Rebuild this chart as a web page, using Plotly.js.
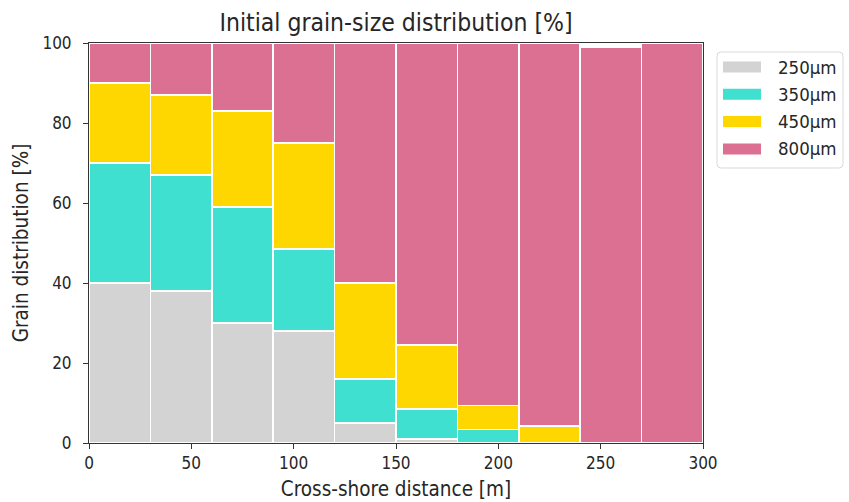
<!DOCTYPE html>
<html><head><meta charset="utf-8">
<script src="https://cdn.plot.ly/plotly-3.0.1.min.js"></script>
<style>body{margin:0;background:#fff}#c{width:849px;height:502px}</style>
</head><body><div id="c"></div>
<script>
const xPos = [0, 30, 60, 90, 120, 150, 180, 210, 240, 270];
const s250 = [40, 38, 30, 28, 5, 1, 0, 0, 0, 0];
const s350 = [30, 29, 29, 20.5, 11, 7.5, 3.4, 0, 0, 0];
const s450 = [20, 20, 24, 26.5, 24, 16, 6, 4.3, 0, 0];
const s800 = [10, 13, 17, 25, 60, 75.5, 90.6, 95.7, 99, 100];
const names = ['250µm', '350µm', '450µm', '800µm'];
const colors = ['#d3d3d3', '#40e0d0', '#ffd700', '#db7093'];
const series = [s250, s350, s450, s800];

const W = 849, H = 502, ML = 89, MR = 146, MT = 43, MB = 59;
const PW = W - ML - MR, PH = H - MT - MB;
const px = v => (v - ML) / PW;
const py = v => (H - MB - v) / PH;

const traces = series.map((s, i) => ({
  type: 'bar', x: xPos, y: s, name: names[i], width: 30, offset: 0, showlegend: false,
  marker: {color: colors[i], line: {color: '#ffffff', width: 1.5}}
}));
const FAM = 'DejaVu Sans Condensed, DejaVu Sans';
const tickFont = {family: FAM, size: 17, color: '#262626'};
const labFont = {family: FAM, size: 20.5, color: '#262626'};

// custom legend (matplotlib-style wide patches)
const shapes = [];
const annotations = [];
const bx0 = 717, bx1 = 843, by0 = 52, by1 = 168, r = 4;
const rx = r / PW, ry = r / PH;
const X0 = px(bx0), X1 = px(bx1), Y0 = py(by0), Y1 = py(by1);
shapes.push({type: 'path', xref: 'paper', yref: 'paper',
  path: `M ${X0 + rx} ${Y0} L ${X1 - rx} ${Y0} Q ${X1} ${Y0} ${X1} ${Y0 - ry} L ${X1} ${Y1 + ry} Q ${X1} ${Y1} ${X1 - rx} ${Y1} L ${X0 + rx} ${Y1} Q ${X0} ${Y1} ${X0} ${Y1 + ry} L ${X0} ${Y0 - ry} Q ${X0} ${Y0} ${X0 + rx} ${Y0} Z`,
  line: {color: '#d9d9d9', width: 1}, fillcolor: '#ffffff'});
names.forEach((n, i) => {
  const cy = 67 + i * 27.3;
  shapes.push({type: 'rect', xref: 'paper', yref: 'paper', x0: px(723), x1: px(761), y0: py(cy - 5.5), y1: py(cy + 5.5),
    fillcolor: colors[i], line: {width: 0}});
  annotations.push({xref: 'paper', yref: 'paper', x: px(776), y: py(cy), xanchor: 'left', yanchor: 'middle',
    text: n, showarrow: false, font: {family: FAM, size: 18.5, color: '#262626'}});
});

Plotly.newPlot('c', traces, {
  width: W, height: H, barmode: 'stack', bargap: 0,
  margin: {l: ML, r: MR, t: MT, b: MB},
  paper_bgcolor: '#fff', plot_bgcolor: '#fff', font: tickFont,
  title: {text: 'Initial grain-size distribution [%]', font: {family: FAM, size: 24.5, color: '#262626'}, xref: 'paper', x: 0.5, xanchor: 'center', y: 0.955, yanchor: 'middle'},
  xaxis: {range: [0, 300], tickvals: [0, 50, 100, 150, 200, 250, 300], ticks: 'outside', ticklen: 5, tickcolor: '#333',
    showline: true, linecolor: '#333', linewidth: 1, mirror: true, showgrid: false, zeroline: false, tickfont: tickFont,
    title: {text: 'Cross-shore distance [m]', font: labFont, standoff: 9}},
  yaxis: {range: [0, 100], tickvals: [0, 20, 40, 60, 80, 100], ticks: 'outside', ticklen: 5, tickcolor: '#333',
    showline: true, linecolor: '#333', linewidth: 1, mirror: true, showgrid: false, zeroline: false, tickfont: tickFont,
    ticklabelstandoff: 8,
    title: {text: 'Grain distribution [%]', font: labFont, standoff: 8}},
  shapes: shapes, annotations: annotations,
  showlegend: false
}, {displayModeBar: false, staticPlot: true});
</script></body></html>
